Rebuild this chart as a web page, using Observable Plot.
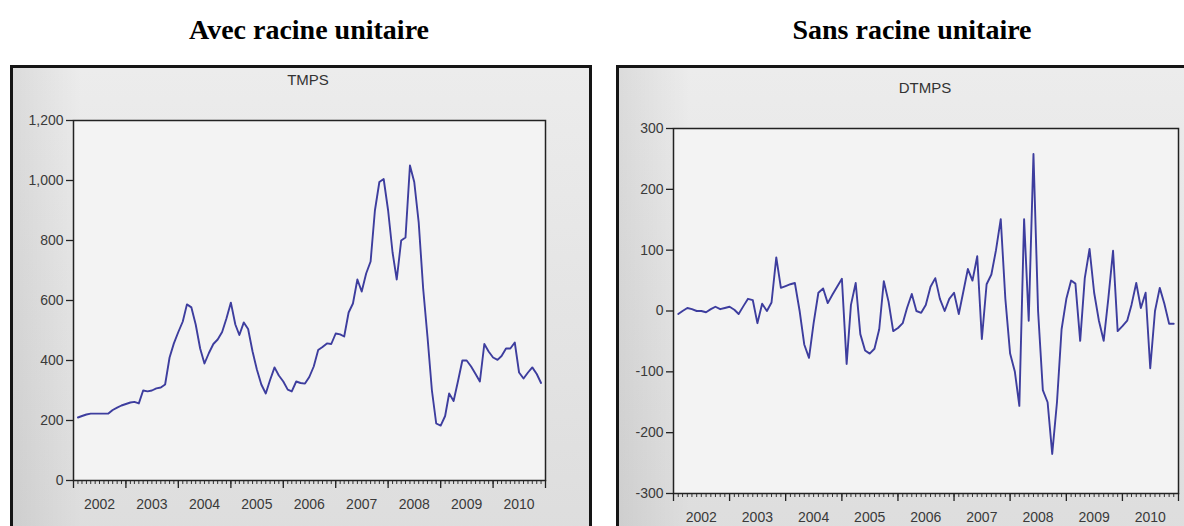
<!DOCTYPE html>
<html>
<head>
<meta charset="utf-8">
<script src="https://cdn.jsdelivr.net/npm/d3@7"></script>
<script src="https://cdn.jsdelivr.net/npm/@observablehq/plot@0.6"></script>
<style>
  body { margin:0; background:#fff; }
  #root { position:relative; width:1184px; height:526px; overflow:hidden; background:#fff; }
  .h { position:absolute; top:12px; height:36px; line-height:36px; text-align:center;
       font-family:"Liberation Serif","Times New Roman",serif; font-weight:bold; font-size:28px; color:#000; }
  .frame { position:absolute; top:65px; height:480px; box-sizing:border-box; border:3px solid #151515;
       background:
         linear-gradient(to right, rgba(0,0,0,0.07), rgba(0,0,0,0) 12%),
         linear-gradient(to bottom, #ececec, #dddddd); }
  .t { position:absolute; font-family:"Liberation Sans",Arial,sans-serif; font-size:15px; color:#333; text-align:center; }
  .p { position:absolute; top:68px; }
</style>
</head>
<body>
<div id="root">
  <div class="h" style="left:0;width:618px">Avec racine unitaire</div>
  <div class="h" style="left:640px;width:544px">Sans racine unitaire</div>
  <div class="frame" style="left:10px;width:582px"></div>
  <div class="frame" style="left:616px;width:600px"></div>
  <div class="t" style="left:258px;width:100px;top:71px">TMPS</div>
  <div class="t" style="left:875px;width:100px;top:79px">DTMPS</div>
  <div class="p" id="left" style="left:13px"></div>
  <div class="p" id="right" style="left:619px"></div>
</div>
<script>
// Monthly observations, 2002M02 .. 2010M12
const firstMonth = "2002-02-01";
const lastMonth = "2010-12-01";
const years = ["2002","2003","2004","2005","2006","2007","2008","2009","2010"];
const yTicksLeft = [0, 200, 400, 600, 800, 1000, 1200];
const yTicksRight = [-300, -200, -100, 0, 100, 200, 300];

const tmps = [
  210, 215, 220, 223, 223, 223, 223, 223, 235, 243, 250,
  255, 260, 262, 257, 300, 297, 300, 307, 310, 320, 410, 457,
  495, 530, 587, 577, 520, 440, 390, 425, 455, 470, 495, 540,
  593, 520, 485, 527, 505, 430, 370, 320, 290, 335, 377, 350,
  330, 303, 297, 330, 325, 323, 345, 380, 435, 445, 457, 455,
  490, 487, 480, 560, 590, 670, 630, 690, 730, 900, 995, 1005,
  900, 760, 670, 800, 810, 1050, 995, 860, 640, 480, 300, 190,
  183, 215, 290, 265, 330, 400, 400, 380, 355, 330, 455, 430,
  410, 402, 415, 440, 440, 460, 360, 340, 360, 377, 355, 325
];

const dtmps = [
  -5, 0, 5, 3, 0, 0, -2, 3, 7, 3, 5,
  7, 2, -5, 8, 20, 18, -20, 12, 0, 14, 88, 38,
  41, 44, 46, 0, -55, -77, -20, 30, 37, 13, 27, 40,
  53, -87, 10, 46, -38, -65, -70, -62, -30, 49, 15, -33,
  -28, -20, 5, 28, 0, -3, 10, 40, 54, 20, 0, 20,
  30, -5, 30, 69, 50, 90, -46, 44, 60, 100, 151, 20,
  -70, -100, -156, 151, -16, 258, 0, -130, -150, -235, -150, -30,
  20, 50, 45, -49, 54, 102, 30, -16, -49, 20, 99, -33,
  -25, -16, 10, 46, 5, 30, -94, 0, 38, 12, -21, -21
];

const months = d3.utcMonth.range(new Date(firstMonth), d3.utcMonth.offset(new Date(lastMonth), 1));
const tableL = months.map((d, i) => ({date: d, value: tmps[i]}));
const tableR = months.map((d, i) => ({date: d, value: dtmps[i]}));

const xDomain = [new Date(years[0] + "-01-01"), new Date((+years[years.length-1] + 1) + "-01-01")];
const monthTicks = d3.utcMonth.range(xDomain[0], d3.utcMonth.offset(xDomain[1], 1));
const yearTicks = d3.utcYear.range(xDomain[0], d3.utcYear.offset(xDomain[1], 1));
const midYears = years.map(y => new Date(y + "-07-01"));

const lineColor = "#3d3d9e";
const font = {background:"transparent", fontFamily:"'Liberation Sans', Arial, sans-serif", fontSize:"14px", color:"#3a3a3a"};

function chart(data, opts) {
  return Plot.plot({
    width: opts.width, height: opts.height,
    marginLeft: opts.ml, marginTop: opts.mt, marginRight: opts.mr, marginBottom: opts.mb,
    style: font,
    x: {type: "utc", domain: xDomain, label: null},
    y: {domain: opts.yDomain, label: null},
    marks: [
      Plot.frame({fill: "#f3f3f3", stroke: "none"}),
      Plot.axisY({ticks: opts.yTicks, label: null, tickSize: 7, tickPadding: 3, tickFormat: opts.fmt, stroke: "#222", strokeWidth: 1.3, fill: "#3a3a3a"}),
      Plot.axisX({ticks: monthTicks, label: null, tickSize: 4, tickPadding: 0, tickFormat: () => "", stroke: "#333", strokeWidth: 1}),
      Plot.axisX({ticks: yearTicks, label: null, tickSize: 8, tickPadding: 0, tickFormat: () => "", stroke: "#222", strokeWidth: 1.3}),
      Plot.axisX({ticks: midYears, label: null, tickSize: 0, tickPadding: opts.xpad, tickFormat: d3.utcFormat("%Y"), fill: "#3a3a3a"}),
      Plot.line(data, {x: "date", y: "value", stroke: lineColor, strokeWidth: 1.9, strokeLinejoin: "round"}),
      Plot.frame({stroke: "#222", strokeWidth: 1.5})
    ]
  });
}

document.getElementById("left").append(chart(tableL, {
  width: 575, height: 458, ml: 60, mt: 52, mr: 43, mb: 46,
  yDomain: [0, 1200], yTicks: yTicksLeft, fmt: d3.format(","), xpad: 19
}));
document.getElementById("right").append(chart(tableR, {
  width: 565, height: 458, ml: 54, mt: 60, mr: 6, mb: 33,
  yDomain: [-300, 300], yTicks: yTicksRight, fmt: d => String(d), xpad: 19
}));
</script>
</body>
</html>
